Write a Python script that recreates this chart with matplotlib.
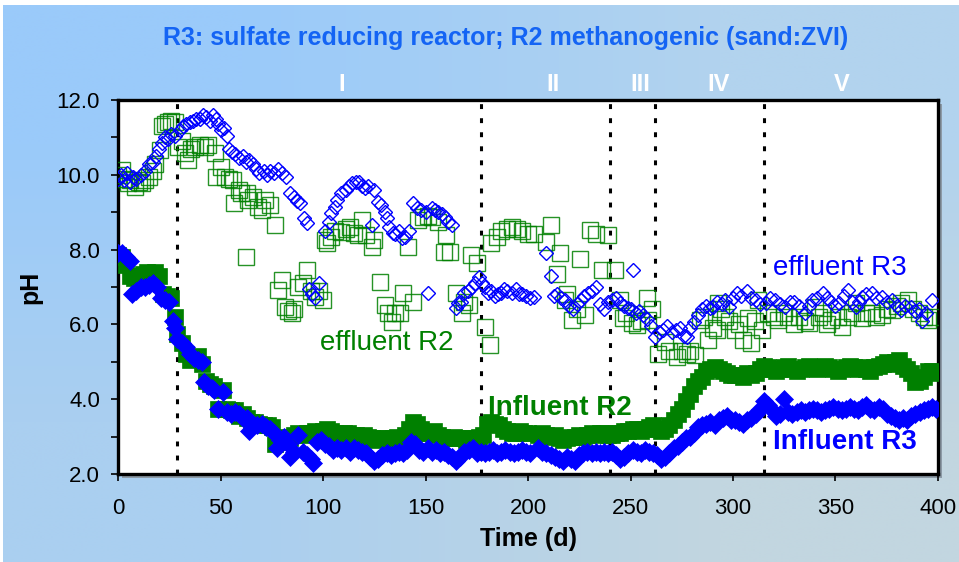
import numpy as np
import matplotlib
matplotlib.use("Agg")
import matplotlib.pyplot as plt
from matplotlib.patches import Rectangle
from matplotlib.ticker import MultipleLocator, FormatStrFormatter
import matplotlib.transforms as mtransforms

plt.rcParams['font.family'] = ['Liberation Sans', 'DejaVu Sans']

# ---------------- data ----------------
# Influent R3 (filled blue diamonds)
inf_r3_day = [0, 2, 4, 6, 7, 9, 11, 13, 15, 17, 19, 21, 23, 25, 27, 28, 29, 31, 33, 35,
              37, 39, 41, 42, 44, 46, 47, 49, 51, 53, 55, 57, 59, 61, 63, 64, 66, 68, 70, 72,
              74, 76, 77.5, 79, 81, 83, 84, 86, 88, 90, 92, 94, 95, 97, 99, 101, 103, 105, 107, 109,
              111, 113, 115, 117, 119, 121, 123, 125, 127, 129, 131, 133, 135, 137, 139, 141, 143, 145, 147, 149,
              151, 153, 155, 157, 159, 161, 163, 165, 167, 169, 171, 173, 175, 177, 179, 181, 183, 185, 187, 189,
              191, 193, 195, 197, 199, 201, 205, 207, 209, 211, 213, 215, 217, 219, 221, 223, 225, 227, 229, 231,
              233, 235, 237, 239, 241, 243, 245, 247, 249, 251, 253, 255, 257, 259, 261, 263, 265, 267, 269, 271,
              273, 275, 277, 279, 281, 283, 285, 287, 289, 291, 293, 295, 297, 299, 301, 303, 305, 307, 309, 311,
              313, 315, 317, 319, 321, 323, 325, 327, 329, 331, 333, 335, 337, 339, 341, 343, 345, 347, 349, 351,
              353, 355, 357, 359, 361, 363, 365, 367, 369, 371, 373, 375, 377, 379, 381, 383, 385, 387, 389, 391,
              393, 395, 397, 399]
inf_r3_ph = [7.9, 7.9, 7.8, 7.7, 6.8, 6.9, 7.0, 7.0, 7.05, 7.1, 7.0, 6.7, 6.65, 6.6, 6.1, 5.9, 5.6, 5.5, 5.4, 5.2,
             5.1, 5.05, 5.0, 4.45, 4.35, 4.3, 4.25, 3.75, 4.2, 3.65, 3.6, 3.65, 3.6, 3.5, 3.5, 3.15, 3.3, 3.3, 3.35, 3.25,
             3.2, 3.1, 2.7, 2.9, 3.0, 2.8, 2.45, 2.6, 3.05, 2.6, 2.5, 2.4, 2.3, 2.85, 2.9, 2.8, 2.75, 2.65, 2.7, 2.65,
             2.7, 2.6, 2.7, 2.65, 2.6, 2.55, 2.45, 2.35, 2.4, 2.5, 2.55, 2.5, 2.55, 2.6, 2.55, 2.65, 2.85, 2.8, 2.65, 2.6,
             2.7, 2.6, 2.65, 2.55, 2.6, 2.5, 2.45, 2.35, 2.45, 2.6, 2.65, 2.7, 2.55, 2.6, 2.55, 2.6, 2.65, 2.55, 2.6, 2.65,
             2.6, 2.55, 2.6, 2.65, 2.6, 2.55, 2.7, 2.6, 2.55, 2.5, 2.45, 2.4, 2.35, 2.45, 2.4, 2.35, 2.5, 2.55, 2.6, 2.55,
             2.6, 2.55, 2.6, 2.55, 2.6, 2.5, 2.4, 2.45, 2.55, 2.65, 2.6, 2.55, 2.65, 2.6, 2.55, 2.5, 2.4, 2.45, 2.55, 2.7,
             2.75, 2.85, 2.95, 3.0, 3.1, 3.25, 3.3, 3.35, 3.4, 3.3, 3.45, 3.5, 3.55, 3.45, 3.45, 3.4, 3.35, 3.45, 3.5, 3.6,
             3.75, 3.95, 3.85, 3.7, 3.55, 3.6, 4.0, 3.65, 3.6, 3.65, 3.7, 3.65, 3.7, 3.75, 3.7, 3.65, 3.7, 3.75, 3.8, 3.75,
             3.7, 3.75, 3.8, 3.75, 3.7, 3.8, 3.85, 3.75, 3.7, 3.8, 3.75, 3.6, 3.55, 3.5, 3.45, 3.5, 3.45, 3.55, 3.6, 3.65,
             3.7, 3.75, 3.8, 3.75]

# Influent R2 (filled green squares)
inf_r2_day = [0, 2, 4, 6, 8, 10, 12, 14, 16, 18, 20, 22, 24, 26, 28, 29, 31, 33, 35, 37,
              39, 41, 43, 45, 47, 49, 51, 53, 55, 57, 59, 61, 63, 65, 67, 69, 71, 73, 75, 76.5,
              78, 80, 82, 84, 86, 88, 90, 92, 94, 96, 98, 100, 102, 104, 106, 108, 110, 112, 114, 116,
              118, 120, 122, 124, 126, 128, 130, 132, 134, 136, 138, 140, 142, 144, 146, 148, 150, 152, 154, 156,
              158, 160, 162, 164, 166, 168, 170, 172, 174, 176, 178, 180, 182, 184, 186, 188, 190, 192, 194, 196,
              198, 200, 205, 207, 209, 211, 213, 215, 217, 219, 221, 223, 225, 227, 229, 231, 233, 235, 237, 239,
              241, 243, 245, 247, 249, 251, 253, 255, 257, 259, 261, 263, 265, 267, 269, 271, 273, 275, 277, 279,
              281, 283, 285, 287, 289, 291, 293, 295, 297, 299, 301, 303, 305, 307, 309, 311, 313, 315, 317, 319,
              321, 323, 325, 327, 329, 331, 333, 335, 337, 339, 341, 343, 345, 347, 349, 351, 353, 355, 357, 359,
              361, 363, 365, 367, 369, 371, 373, 375, 377, 379, 381, 383, 385, 387, 389, 391, 393, 395, 397, 399]
inf_r2_ph = [7.85, 7.8, 7.6, 7.3, 7.25, 7.3, 7.35, 7.4, 7.35, 7.4, 7.3, 6.8, 6.75, 6.7, 6.2, 5.75, 5.5, 5.2, 5.05, 5.1,
             5.15, 4.95, 4.5, 4.4, 4.35, 3.75, 4.25, 3.75, 3.7, 3.7, 3.55, 3.6, 3.5, 3.4, 3.4, 3.35, 3.3, 3.3, 3.25, 2.8,
             2.85, 2.95, 3.0, 2.95, 3.05, 3.1, 3.05, 3.1, 3.1, 3.15, 3.1, 3.15, 3.2, 3.15, 3.1, 3.05, 3.1, 3.1, 3.05, 3.05,
             3.0, 3.05, 3.0, 2.95, 2.9, 2.95, 2.95, 2.9, 2.95, 3.0, 2.95, 3.05, 3.2, 3.4, 3.35, 3.2, 3.1, 3.1, 3.15, 3.05,
             3.0, 2.95, 2.95, 3.0, 2.95, 2.95, 2.9, 2.95, 2.95, 3.0, 3.05, 3.35, 3.4, 3.35, 3.3, 3.2, 3.15, 3.1, 3.1, 3.15,
             3.1, 3.1, 3.05, 3.1, 3.05, 3.0, 3.05, 2.95, 2.9, 2.95, 3.0, 3.0, 3.05, 3.0, 3.05, 3.1, 3.05, 3.1, 3.1, 3.05,
             3.05, 3.1, 3.1, 3.15, 3.15, 3.2, 3.2, 3.15, 3.2, 3.25, 3.3, 3.2, 3.15, 3.2, 3.3, 3.45, 3.6, 3.75, 3.95, 4.15,
             4.35, 4.5, 4.6, 4.75, 4.8, 4.85, 4.8, 4.75, 4.7, 4.65, 4.65, 4.65, 4.6, 4.7, 4.65, 4.7, 4.8, 4.9, 4.85, 4.8,
             4.75, 4.8, 4.85, 4.9, 4.8, 4.75, 4.8, 4.85, 4.9, 4.85, 4.8, 4.85, 4.9, 4.85, 4.8, 4.75, 4.8, 4.85, 4.9, 4.85,
             4.8, 4.85, 4.8, 4.75, 4.85, 4.9, 4.95, 5.0, 4.95, 5.0, 5.05, 4.9, 4.8, 4.7, 4.45, 4.5, 4.6, 4.75, 4.75, 4.7]

# Effluent R2 (open green squares)
eff_r2_day = [0, 1.8, 3, 5, 6, 8.3, 10, 11.5, 13, 15, 17, 18, 20.5, 21.3, 23, 24.5, 26, 27.8, 29.4, 31,
              32.7, 34, 35.5, 37.5, 40, 42.4, 44, 47.3, 48, 50, 52, 54, 56, 56.5, 59, 60, 62.5, 62.7, 63.6, 66,
              68.5, 70, 71.7, 74, 76.6, 78, 80, 81.5, 83, 84.7, 86, 88, 90.4, 92, 94, 96, 98, 100, 101, 102,
              104, 106, 109, 111, 113, 115, 117, 119, 121, 124, 125, 128, 130, 131.5, 133.5, 135, 137.6, 139, 141.6, 144,
              146.5, 149, 151, 153, 156, 159, 160, 162, 165, 167.7, 169, 171, 172, 175, 179, 181.5, 182, 184.7, 187, 190,
              192, 194.5, 197, 200, 203, 209, 211, 214, 215.6, 218, 219, 221.3, 224, 225.4, 227.8, 230.2, 233, 236, 239.2, 242.4,
              245, 246.5, 248, 250.6, 253, 255, 258, 258.7, 260.3, 263.6, 266.8, 269, 272.5, 275, 277.4, 279, 281.5, 284, 286, 288,
              290, 292, 292.5, 294, 296, 298, 301, 303, 305, 307.5, 309, 310.5, 312.4, 314, 317.3, 320, 322, 325, 327, 330,
              332, 335, 337, 340, 342, 344, 346, 348, 351, 353, 356, 358, 360, 363, 365, 368, 370, 372.5, 375, 377.5,
              380, 382, 385.6, 388, 390.5, 393, 395, 398.6]
eff_r2_ph = [10.0, 10.13, 9.9, 9.77, 9.85, 9.68, 9.8, 9.77, 9.85, 9.95, 10.1, 10.3, 10.66, 11.3, 11.35, 11.4, 11.45, 11.4, 10.75, 10.9,
             10.57, 10.4, 10.7, 10.75, 10.8, 10.75, 10.8, 10.57, 9.95, 10.2, 9.95, 9.9, 9.86, 9.24, 9.6, 9.5, 7.8, 9.5, 9.33, 9.4,
             9.15, 9.06, 9.33, 9.2, 8.65, 6.92, 7.2, 6.47, 6.35, 6.3, 6.4, 7.0, 7.1, 7.45, 6.9, 6.74, 6.9, 6.65, 8.26, 8.17,
             8.35, 8.5, 8.47, 8.55, 8.6, 8.45, 8.4, 8.8, 8.4, 8.08, 8.26, 7.14, 6.52, 6.3, 6.07, 6.3, 6.3, 6.84, 8.08, 6.6,
             8.8, 8.88, 8.9, 8.88, 8.74, 7.94, 8.4, 7.94, 6.84, 6.3, 6.6, 6.52, 7.85, 7.63, 5.93, 5.44, 8.17, 8.35, 8.5, 8.56,
             8.6, 8.56, 8.5, 8.43, 8.43, 8.2, 8.65, 7.36, 7.9, 6.65, 6.8, 6.12, 6.4, 7.76, 6.25, 8.52, 8.43, 7.45, 8.38, 7.45,
             6.65, 6.16, 6.3, 6.03, 5.98, 6.1, 6.7, 6.12, 6.42, 5.22, 5.53, 5.3, 5.13, 5.3, 5.22, 5.3, 5.18, 6.12, 6.2, 5.58,
             5.9, 5.85, 6.57, 6.4, 6.2, 6.1, 5.85, 6.0, 5.58, 6.16, 5.49, 6.1, 6.65, 5.85, 6.3, 6.2, 6.12, 6.3, 6.2, 6.0,
             6.2, 6.1, 6.03, 6.47, 6.2, 6.3, 6.0, 6.12, 6.2, 5.93, 6.2, 6.3, 6.57, 6.16, 6.3, 6.3, 6.2, 6.25, 6.4, 6.38,
             6.5, 6.57, 6.65, 6.4, 6.3, 6.2, 6.12, 6.2]

# Effluent R3 (open blue diamonds)
eff_r3_day = [0, 1.5, 3, 4.5, 6, 7.5, 9, 11, 13, 15, 17, 18.5, 20, 21.5, 23, 24.5, 26, 28, 30, 31.5,
              33, 35, 36.5, 38, 40, 41.5, 43, 45, 46.5, 48, 49, 50, 51.5, 53, 54, 55.5, 57, 59, 61, 62.5,
              64, 66, 67.5, 69, 71, 72.5, 74, 76, 78, 80, 82, 84, 86, 87.5, 89, 90.5, 92, 93, 94.5, 96,
              98, 101, 103, 104, 106, 107, 109, 111, 112.5, 114, 116, 117.5, 119, 120.5, 122, 124, 125, 127, 128.5, 130,
              131, 132, 134, 135, 137, 138.5, 140, 142, 144, 146, 148, 150, 151, 153, 154.5, 156, 158, 159.5, 161, 163,
              165, 166, 167.5, 169, 170.5, 172.5, 174, 176, 177.5, 179, 180.5, 182, 184, 185.5, 187, 188.5, 190, 192, 194, 195.5,
              197, 199, 201, 203, 209, 211, 212.5, 214, 216, 218, 220, 222, 224, 226, 227.5, 229.5, 231, 233, 235, 237,
              239, 241, 243, 245, 247, 249, 250, 251.4, 252.5, 254, 256, 258, 260, 262, 264, 266, 268, 270, 272, 274,
              276, 277.5, 279, 281, 283, 285, 287, 289, 290, 292, 294.5, 296, 298, 300, 302, 304, 307, 309, 311, 313,
              316, 318, 320.5, 323, 325.5, 328, 330, 332, 335, 337, 338.5, 341, 344, 346, 348, 350, 351.5, 354, 356, 358,
              360, 361.5, 363, 365, 368, 370, 372.5, 375, 377.5, 380, 382, 384, 387, 389, 390.5, 392, 394, 397]
eff_r3_ph = [9.9, 10.0, 9.85, 10.05, 9.8, 9.95, 9.9, 10.0, 10.1, 10.3, 10.35, 10.5, 10.7, 10.85, 11.0, 10.95, 11.1, 11.05, 11.2, 11.3,
             11.35, 11.4, 11.45, 11.5, 11.5, 11.6, 11.55, 11.45, 11.6, 11.5, 11.35, 11.2, 11.25, 11.05, 10.7, 10.6, 10.55, 10.45, 10.5, 10.35,
             10.4, 10.3, 10.15, 10.05, 10.1, 10.0, 10.1, 10.05, 10.15, 10.05, 9.95, 9.5, 9.4, 9.3, 9.25, 8.85, 8.7, 6.95, 6.8, 6.7,
             7.1, 8.5, 8.75, 8.97, 9.15, 9.33, 9.5, 9.6, 9.7, 9.77, 9.8, 9.82, 9.7, 9.64, 9.7, 8.65, 9.6, 9.28, 9.2, 9.01,
             8.85, 8.6, 8.45, 8.43, 8.5, 8.3, 8.35, 8.5, 9.24, 9.1, 9.06, 9.0, 6.84, 9.1, 9.05, 9.0, 8.95, 8.88, 8.75, 8.65,
             6.45, 6.57, 6.6, 6.84, 6.9, 7.0, 7.1, 7.27, 7.1, 7.0, 6.85, 6.9, 6.75, 6.8, 6.85, 6.95, 6.9, 6.85, 6.95, 6.8,
             6.8, 6.75, 6.7, 6.74, 7.9, 7.3, 6.75, 6.8, 6.7, 6.65, 6.5, 6.42, 6.55, 6.65, 6.75, 6.84, 6.9, 7.0, 6.55, 6.42,
             6.6, 6.65, 6.7, 6.57, 6.5, 6.45, 6.42, 7.45, 6.3, 6.35, 6.25, 6.15, 5.95, 5.67, 5.8, 5.85, 5.95, 5.8, 5.85, 5.9,
             5.7, 5.67, 5.9, 6.07, 6.25, 6.42, 6.5, 6.45, 6.47, 6.6, 6.55, 6.65, 6.47, 6.7, 6.84, 6.75, 6.9, 6.7, 6.65, 6.55,
             6.57, 6.7, 6.65, 6.55, 6.47, 6.6, 6.6, 6.5, 6.3, 6.5, 6.65, 6.7, 6.84, 6.7, 6.6, 6.5, 6.57, 6.75, 6.93, 6.6,
             6.47, 6.6, 6.74, 6.8, 6.84, 6.7, 6.74, 6.6, 6.65, 6.5, 6.38, 6.5, 6.47, 6.35, 6.4, 6.1, 6.3, 6.65]

# phase boundaries (days) and phase labels
phase_bounds = [29, 177, 240, 262, 315]
phase_labels = ['I', 'II', 'III', 'IV', 'V']
phase_label_x = [109, 212, 255, 293, 353]

GREEN = '#008000'
BLUE = '#0000ff'

W, H = 959, 562
fig = plt.figure(figsize=(W / 100, H / 100), dpi=100)

# gradient backdrop
bg = fig.add_axes([0, 0, 1, 1], zorder=-10)
corners = np.array([[[154, 202, 250], [178, 211, 238]],
                    [[170, 207, 240], [194, 214, 224]]]) / 255.0
bg.imshow(corners, extent=[3 / W, 1, 0, 1 - 5 / H], aspect='auto', interpolation='bilinear')
bg.set_xlim(0, 1)
bg.set_ylim(0, 1)
bg.axis('off')

left, right, top, bottom = 118, 938, 100, 474
ax = fig.add_axes([left / W, 1 - bottom / H, (right - left) / W, (bottom - top) / H])
ax.set_facecolor('white')

# soft drop shadow of the plot frame
fig.patches.append(Rectangle(((left + 4) / W, 1 - (bottom + 4) / H), (right - left) / W, (bottom - top) / H,
                             transform=fig.transFigure, facecolor='#8c9aa6', edgecolor='none', zorder=-5))

ax.set_xlim(0, 400)
ax.set_ylim(2, 12)

for xb in phase_bounds:
    ax.axvline(xb, color='black', lw=2.2, dashes=(1.6, 3.0), zorder=1)

ax.plot(eff_r2_day, eff_r2_ph, ls='none', marker='s', ms=11, mfc='none', mec=GREEN, mew=1.0, alpha=0.85, zorder=3)
ax.plot(eff_r3_day, eff_r3_ph, ls='none', marker='D', ms=7.4, mfc='none', mec=BLUE, mew=1.0, zorder=4)
ax.plot(inf_r2_day, inf_r2_ph, ls='none', marker='s', ms=11.5, mfc=GREEN, mec=GREEN, mew=0.5, zorder=5)
ax.plot(inf_r3_day, inf_r3_ph, ls='none', marker='D', ms=8.8, mfc=BLUE, mec=BLUE, mew=0.5, zorder=6)

ax.text(131, 5.5, 'effluent R2', color=GREEN, fontsize=20, ha='center', va='center', zorder=7)
ax.text(352, 7.5, 'effluent R3', color=BLUE, fontsize=20, ha='center', va='center', zorder=7)
ax.text(215.6, 3.76, 'Influent R2', color=GREEN, fontsize=20, fontweight='bold', ha='center', va='center', zorder=7)
ax.text(354.6, 2.86, 'Influent R3', color=BLUE, fontsize=20, fontweight='bold', ha='center', va='center', zorder=7)

trans = mtransforms.blended_transform_factory(ax.transData, ax.transAxes)
for xl, lab in zip(phase_label_x, phase_labels):
    ax.text(xl, 1.012, lab, transform=trans, color='white', fontsize=17, fontweight='bold',
            ha='center', va='bottom', clip_on=False)

for s in ax.spines.values():
    s.set_linewidth(2.4)
    s.set_color('black')

ax.xaxis.set_major_locator(MultipleLocator(50))
ax.yaxis.set_major_locator(MultipleLocator(2))
ax.yaxis.set_minor_locator(MultipleLocator(1))
ax.yaxis.set_major_formatter(FormatStrFormatter('%.1f'))
ax.tick_params(axis='both', which='both', direction='out', length=5, width=1.2, labelsize=16)
ax.tick_params(axis='x', pad=12)
ax.tick_params(axis='y', pad=8)

ax.set_xlabel('Time (d)', fontsize=18, fontweight='bold', labelpad=6)
ax.set_ylabel('pH', fontsize=18, fontweight='bold', labelpad=10)

fig.text(506 / W, 1 - 38 / H, 'R3: sulfate reducing reactor; R2 methanogenic (sand:ZVI)',
         color='#1464f4', fontsize=18, fontweight='bold', ha='center', va='center')

fig.savefig('out.png', dpi=100)
